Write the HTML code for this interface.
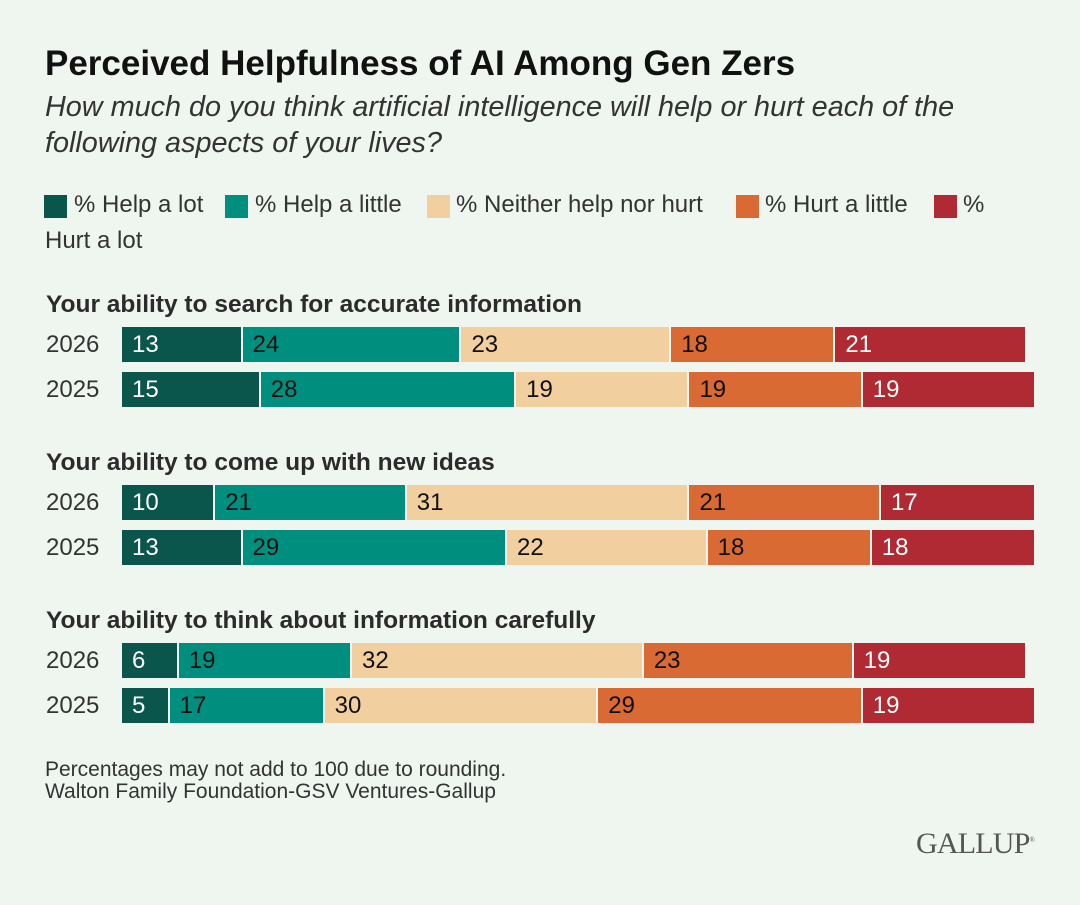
<!DOCTYPE html>
<html><head><meta charset="utf-8"><style>
body{margin:0;background:#eff6f0;}
#root{position:relative;width:1080px;height:905px;background:#eff6f0;font-family:"Liberation Sans",sans-serif;color:#2b2b2b;overflow:hidden}
.abs{position:absolute;white-space:nowrap}
.title{left:45px;top:44px;font-size:35px;font-weight:bold;color:#111;letter-spacing:0px}
.sub{left:45px;top:89px;font-size:28.8px;font-style:italic;line-height:36px;color:#333}
.leg{font-size:24px;color:#333}
.sw{position:absolute;width:23px;height:23px}
.gt{font-size:24.5px;font-weight:bold;color:#2b2b2b;left:46px}
.yr{font-size:24px;color:#333;left:46px}
.seg{position:absolute;height:35px;box-sizing:border-box;font-size:24px;line-height:36px;padding-left:10px}
.note{left:45px;font-size:21px;color:#333}
</style></head><body>
<div id="root">
<div class="abs title">Perceived Helpfulness of AI Among Gen Zers</div>
<div class="abs sub">How much do you think artificial intelligence will help or hurt each of the<br>following aspects of your lives?</div>
<div>
<div class="sw" style="left:44px;top:195px;background:#0a564c"></div>
<div class="abs leg" style="left:74px;top:191px">% Help a lot</div>
<div class="sw" style="left:225px;top:195px;background:#008f7e"></div>
<div class="abs leg" style="left:255px;top:191px">% Help a little</div>
<div class="sw" style="left:427px;top:195px;background:#f2cf9f"></div>
<div class="abs leg" style="left:456px;top:191px">% Neither help nor hurt</div>
<div class="sw" style="left:736px;top:195px;background:#d96a33"></div>
<div class="abs leg" style="left:765px;top:191px">% Hurt a little</div>
<div class="sw" style="left:934px;top:195px;background:#b02a33"></div>
<div class="abs leg" style="left:963px;top:191px">%</div>
<div class="abs leg" style="left:45px;top:227px">Hurt a lot</div>
</div>
<div id="bars"></div>
<div class="abs note" style="top:758px">Percentages may not add to 100 due to rounding.</div>
<div class="abs note" style="top:780px">Walton Family Foundation-GSV Ventures-Gallup</div>
<div class="abs" style="left:916px;top:827px;font-family:'Liberation Serif',serif;font-size:30px;color:#555;letter-spacing:-0.8px">GALLUP<sup style="font-size:7px">®</sup></div>
</div>
<script>
const groups = ["Your ability to search for accurate information","Your ability to come up with new ideas","Your ability to think about information carefully"];
const years = ["2026","2025"];
const helpLot = [[13,15],[10,13],[6,5]];
const helpLittle = [[24,28],[21,29],[19,17]];
const neither = [[23,19],[31,22],[32,30]];
const hurtLittle = [[18,19],[21,18],[23,29]];
const hurtLot = [[21,19],[17,18],[19,19]];
const series=[helpLot,helpLittle,neither,hurtLittle,hurtLot];
const names=["help-a-lot","help-a-little","neither","hurt-a-little","hurt-a-lot"];
const colors=["#0a564c","#008f7e","#f2cf9f","#d96a33","#b02a33"];
const txt=["#fff","#111","#111","#111","#fff"];
const x0=122, unit=9.12;
const xs=v=>v*unit;
const root=document.getElementById('bars');
const groupTop=[290,448,606];
groups.forEach((g,gi)=>{
  const t=document.createElement('div');
  t.className='abs gt';t.style.top=(groupTop[gi]+1)+'px';t.textContent=g;
  
  
  root.appendChild(t);
  years.forEach((y,yi)=>{
    const top=groupTop[gi]+37+yi*45;
    const l=document.createElement('div');
    l.className='abs yr';l.style.top=(top+4)+'px';l.textContent=y;
    
    
    root.appendChild(l);
    let cum=0;
    series.forEach((s,si)=>{
      const v=s[gi][yi];
      const d=document.createElement('div');
      d.className='seg';
      d.style.left=(x0+xs(cum)+(si?1:0))+'px';
      d.style.top=top+'px';
      d.style.width=(xs(v)-(si?1:0))+'px';
      d.style.background=colors[si];d.style.color=txt[si];
      d.style.borderLeft=si?'1px solid #eff6f0':'none';
      d.textContent=v;
      
      
      root.appendChild(d);
      cum+=v;
    });
  });
});
</script>
</body></html>
